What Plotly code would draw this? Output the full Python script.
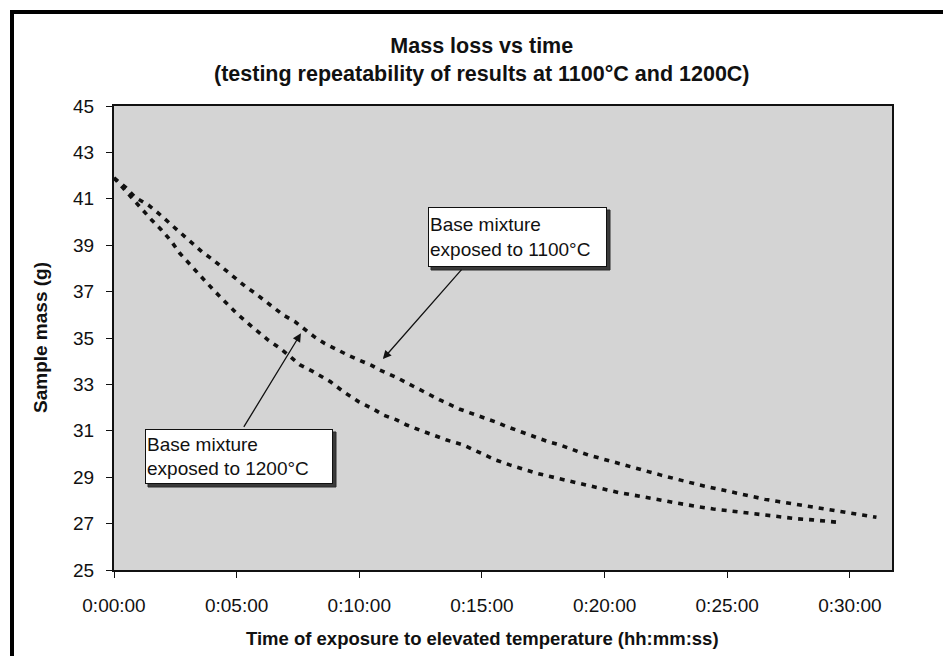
import plotly.graph_objects as go

# Elapsed time (seconds) and sample mass (g) for the base mixture
time_1100_s = [0, 27, 52, 84, 109, 137, 166, 190, 215, 243,
               268, 292, 320, 345, 367, 389, 414, 443, 467, 491,
               516, 548, 577, 602, 630, 650, 691, 732, 765, 797,
               846, 887, 932, 961, 997, 1034, 1062, 1091, 1115, 1136,
               1160, 1189, 1221, 1254, 1282, 1307, 1336, 1368, 1401, 1433,
               1462, 1495, 1531, 1556, 1592, 1625, 1670, 1698, 1731, 1768,
               1796, 1831, 1865]
mass_1100_g = [41.9, 41.52, 41.06, 40.73, 40.37, 39.94, 39.48, 39.11, 38.72, 38.36,
               38.00, 37.64, 37.24, 36.93, 36.64, 36.35, 35.99, 35.70, 35.36, 35.04,
               34.76, 34.46, 34.22, 34.03, 33.82, 33.62, 33.30, 32.92, 32.62, 32.33,
               31.93, 31.68, 31.39, 31.18, 30.95, 30.70, 30.53, 30.39, 30.22, 30.10,
               29.96, 29.81, 29.67, 29.48, 29.34, 29.24, 29.10, 28.95, 28.81, 28.66,
               28.55, 28.42, 28.31, 28.19, 28.05, 27.95, 27.83, 27.76, 27.66, 27.56,
               27.47, 27.37, 27.27]

time_1200_s = [0, 68, 92, 116, 141, 161, 184, 206, 228, 250,
               271, 300, 328, 355, 377, 406, 430, 455, 487, 529,
               561, 598, 631, 659, 691, 716, 748, 781, 814, 854,
               934, 968, 1001, 1034, 1062, 1095, 1127, 1160, 1197, 1234,
               1270, 1303, 1336, 1368, 1401, 1429, 1466, 1499, 1535, 1572,
               1604, 1637, 1670, 1709, 1741, 1774]
mass_1200_g = [41.9, 40.52, 40.09, 39.66, 39.15, 38.65, 38.19, 37.76, 37.36, 36.95,
               36.57, 36.06, 35.63, 35.23, 34.91, 34.56, 34.19, 33.84, 33.55, 33.12,
               32.69, 32.26, 31.97, 31.68, 31.47, 31.25, 31.03, 30.82, 30.60, 30.39,
               29.74, 29.53, 29.34, 29.17, 29.05, 28.91, 28.77, 28.62, 28.48, 28.34,
               28.23, 28.14, 28.02, 27.91, 27.80, 27.73, 27.63, 27.56, 27.47, 27.40,
               27.33, 27.27, 27.21, 27.16, 27.10, 27.05]

x_tick_s = [0, 300, 600, 900, 1200, 1500, 1800]
x_tick_text = ["0:00:00", "0:05:00", "0:10:00", "0:15:00", "0:20:00", "0:25:00", "0:30:00"]
y_ticks = [25, 27, 29, 31, 33, 35, 37, 39, 41, 43, 45]

FONT = "Liberation Sans, Arial, sans-serif"
INK = "#111111"

# plot-area geometry in pixels, used to place the callouts and frame
L, R, T, B = 114, 892, 106, 570
PW, PH = R - L, B - T


def px_x(px):
    return (px - L) / PW


def px_y(py):
    return 1 - (py - T) / PH


fig = go.Figure()
for t, m, name in [(time_1100_s, mass_1100_g, "1100°C"), (time_1200_s, mass_1200_g, "1200°C")]:
    fig.add_trace(go.Scatter(
        x=t, y=m, mode="lines", name=name,
        line=dict(color=INK, width=3.6, dash="5px,6px"),
        showlegend=False,
    ))

axis_common = dict(
    showgrid=False, zeroline=False, showline=True, linecolor=INK, linewidth=2,
    mirror=True, ticks="outside", ticklen=6, tickcolor=INK, tickwidth=1.2,
    tickfont=dict(family=FONT, size=19, color=INK),
)

fig.update_xaxes(range=[0, 1903], tickvals=x_tick_s, ticktext=x_tick_text,
                 ticklabelstandoff=11, **axis_common)
fig.update_yaxes(range=[25, 45], tickvals=y_ticks, ticklabelstandoff=8, **axis_common)

annotations = [
    # chart title
    dict(text="<b>Mass loss vs time</b><br><b>(testing repeatability of results at 1100°C and 1200C)</b>",
         xref="paper", yref="paper", x=px_x(482), y=px_y(60), xanchor="center", yanchor="middle",
         showarrow=False, font=dict(family=FONT, size=21.5, color=INK)),
    # axis titles
    dict(text="<b>Time of exposure to elevated temperature (hh:mm:ss)</b>",
         xref="paper", yref="paper", x=px_x(482), y=px_y(638), xanchor="center", yanchor="middle",
         showarrow=False, font=dict(family=FONT, size=18.5, color=INK)),
    dict(text="<b>Sample mass (g)</b>", textangle=-90,
         xref="paper", yref="paper", x=px_x(40), y=px_y(338), xanchor="center", yanchor="middle",
         showarrow=False, font=dict(family=FONT, size=19, color=INK)),
    # arrows from the callouts to the curves
    dict(x=10.96 * 60, y=34.09, xref="x", yref="y", ax=80, ay=-91, text="", showarrow=True,
         arrowhead=2, arrowsize=1.3, arrowwidth=1.3, arrowcolor=INK),
    dict(x=7.62 * 60, y=35.2, xref="x", yref="y", ax=-58, ay=95, text="", showarrow=True,
         arrowhead=2, arrowsize=1.3, arrowwidth=1.3, arrowcolor=INK),
]

shapes = []

# callout boxes with a drop shadow
callouts = [("Base mixture<br>exposed to 1100°C", 428, 207, 179, 60),
            ("Base mixture<br>exposed to 1200°C", 145, 429, 188, 55)]
for text, px, py, w, h in callouts:
    shapes.append(dict(type="rect", xref="paper", yref="paper",
                       x0=px_x(px + 3), x1=px_x(px + w + 3),
                       y0=px_y(py + h + 3), y1=px_y(py + 3),
                       line=dict(color="#2a2a2a", width=1), fillcolor="#3a3a3a", layer="above"))
    annotations.append(dict(
        text=text, xref="paper", yref="paper",
        x=px_x(px), y=px_y(py),
        xanchor="left", yanchor="top", align="left", valign="middle",
        width=w - 4, height=h - 4, borderpad=1, borderwidth=1,
        bordercolor=INK, bgcolor="white",
        showarrow=False,
        font=dict(family=FONT, size=19, color=INK),
    ))

# outer chart frame, running off the right and bottom edges
shapes.append(dict(type="rect", xref="paper", yref="paper",
                   x0=px_x(12), x1=px_x(960), y0=px_y(690), y1=px_y(12),
                   line=dict(color="black", width=4), fillcolor="rgba(0,0,0,0)", layer="above"))

fig.update_layout(
    width=943, height=656,
    margin=dict(l=L, r=943 - R, t=T, b=656 - B),
    paper_bgcolor="white", plot_bgcolor="#d4d4d4",
    annotations=annotations, shapes=shapes,
    font=dict(family=FONT, color=INK),
)

fig.write_html("out.html")
